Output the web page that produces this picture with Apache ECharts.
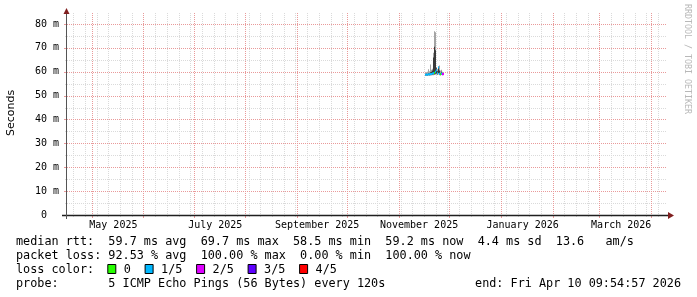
<!DOCTYPE html>
<html><head><meta charset="utf-8">
<script src="https://cdn.jsdelivr.net/npm/echarts@6/dist/echarts.min.js"></script>
<style>html,body{margin:0;padding:0;background:#fff}#c{width:697px;height:297px}</style>
</head><body><div id="c"></div>
<script>
// ---------------- data ----------------
const xStart = '2025-04-16T06:00:00Z';
const xEnd = '2026-04-10T09:54:57Z';
const monthLines = ['2025-05-01','2025-06-01','2025-07-01','2025-08-01','2025-09-01','2025-10-01',
  '2025-11-01','2025-12-01','2026-01-01','2026-02-01','2026-03-01','2026-04-01'];
const monthLabelDates = ['2025-05-14','2025-07-14','2025-09-13','2025-11-13','2026-01-14','2026-03-14'];
const monthNames = ['January','February','March','April','May','June','July','August','September','October','November','December'];
const firstWeekLine = '2025-04-20';
const yMax = 84.6;
const yMajorTicks = [0, 10, 20, 30, 40, 50, 60, 70, 80];
const yMinorTicks = [5, 15, 25, 35, 45, 55, 65, 75];

// samples every 12h (ms values)
const sampleTimes = ['2025-11-17T12:00Z','2025-11-18T00:00Z','2025-11-18T12:00Z','2025-11-19T00:00Z',
  '2025-11-19T12:00Z','2025-11-20T00:00Z','2025-11-20T12:00Z','2025-11-21T00:00Z','2025-11-21T12:00Z',
  '2025-11-22T00:00Z','2025-11-22T12:00Z','2025-11-23T00:00Z','2025-11-23T12:00Z','2025-11-24T00:00Z',
  '2025-11-24T12:00Z','2025-11-25T00:00Z','2025-11-25T12:00Z','2025-11-26T00:00Z','2025-11-26T12:00Z',
  '2025-11-27T00:00Z','2025-11-27T12:00Z','2025-11-28T00:00Z'];
const pingMin = [58.3,58.3,58.2,58.3,58.3,58.3,58.4,58.4,58.5,58.5,58.6,58.6,58.7,58.8,58.6,58.8,58.6,58.5,58.4,58.6,58.5,58.5];
const pingLow = [58.5,58.5,58.5,58.6,58.5,58.6,58.7,58.7,58.8,58.9,59.0,59.0,59.2,59.3,59.0,59.5,59.0,58.8,58.7,58.9,58.8,58.8];
const pingHigh = [59.0,59.2,59.0,59.4,59.2,59.3,59.8,60.0,60.5,66.0,70.0,70.5,69.0,61.5,60.2,62.0,60.0,60.5,59.3,60.0,59.5,59.4];
const pingMax = [59.5,59.8,60.0,61.0,59.8,60.2,63.0,60.8,61.2,68.0,72.0,77.0,76.5,62.0,61.0,62.3,61.5,62.6,60.5,60.8,60.0,59.8];
const medianRtt = [58.7,58.8,58.7,58.9,58.8,58.9,59.0,59.1,59.3,59.4,59.5,59.6,60.0,60.6,59.4,61.8,59.5,59.2,58.9,59.3,59.0,59.1];
const lossCount = [1,1,1,1,1,1,1,1,1,1,0,0,1,1,1,1,1,1,0,1,2,2];

const lossLabels = ['0', '1/5', '2/5', '3/5', '4/5'];
const lossColors = ['#26ff00', '#00b8ff', '#dd00ff', '#5e00ff', '#ff0000'];

const statLines = [
  'median rtt:  59.7 ms avg  69.7 ms max  58.5 ms min  59.2 ms now  4.4 ms sd  13.6   am/s',
  'packet loss: 92.53 % avg  100.00 % max  0.00 % min  100.00 % now'
];
const lossTitle = 'loss color:';
const probeLine = 'probe:       5 ICMP Echo Pings (56 Bytes) every 120s';
const endLine = 'end: Fri Apr 10 09:54:57 2026';
const yTitle = 'Seconds';
const watermark = 'RRDTOOL / TOBI OETIKER';

// ---------------- chart ----------------
const T = s => Date.parse(s.length === 10 ? s + 'T00:00:00Z' : s);
const tMin = T(xStart), tMax = T(xEnd);
const STEP = 12 * 3600 * 1000;
const DAY = 86400000;

const G = {left: 67, top: 13, width: 600, height: 202};

const weekLines = [];
for (let t = T(firstWeekLine); t < tMax; t += 7 * DAY) weekLines.push(t);

// grid line items: [kind, value]; kind 0 = week, 1 = month, 2 = minor y, 3 = major y
const gridItems = [];
weekLines.forEach(t => gridItems.push([0, t]));
yMinorTicks.forEach(v => gridItems.push([2, v]));
monthLines.forEach(s => gridItems.push([1, T(s)]));
yMajorTicks.filter(v => v > 0).forEach(v => gridItems.push([3, v]));

const samples = sampleTimes.map((s, i) => [T(s), pingMin[i], pingLow[i], pingHigh[i], pingMax[i], medianRtt[i], lossCount[i]]);

const GRAY = '#dadada';
const RED = '#e99a9a';

const chart = echarts.init(document.getElementById('c'), null, {renderer: 'canvas'});
const mono = 'DejaVu Sans Mono';
const FONT = '11.8px "DejaVu Sans Mono"';
const cw = 7.1; // legend char width
const lx = 16;

const graphics = [];
statLines.forEach((s, i) => graphics.push({type: 'text', left: lx, top: 236 + i * 14,
  style: {text: s, font: FONT, fill: '#000'}}));
graphics.push({type: 'text', left: lx, top: 264, style: {text: lossTitle, font: FONT, fill: '#000'}});
let bx = lx + 13 * cw - 1;
lossLabels.forEach((lab, i) => {
  graphics.push({type: 'rect', shape: {x: bx + 0.5, y: 264.5, width: 8, height: 9},
    style: {fill: lossColors[i], stroke: '#000', lineWidth: 1}});
  graphics.push({type: 'text', x: bx + 16.5, y: 264, style: {text: lab, font: FONT, fill: '#000'}});
  bx = bx + 16 + (lab.length + 2) * cw;
});
graphics.push({type: 'text', left: lx, top: 278, style: {text: probeLine, font: FONT, fill: '#000'}});
graphics.push({type: 'text', right: 16, top: 278, style: {text: endLine, font: FONT, fill: '#000'}});
graphics.push({type: 'text', x: 11, y: 113, rotation: Math.PI / 2,
  style: {text: yTitle, font: '11px "DejaVu Sans"', fill: '#000', align: 'center', verticalAlign: 'middle'}});
graphics.push({type: 'text', x: 687, y: 4, rotation: -Math.PI / 2,
  style: {text: watermark, font: '8.3px "DejaVu Sans Mono"', fill: '#b8b8b8', align: 'left', verticalAlign: 'middle'}});
// axis lines + arrows
graphics.push({type: 'line', shape: {x1: 62, y1: 215.5, x2: 669, y2: 215.5}, style: {stroke: '#1f1f1f', lineWidth: 1.5}, z: 20});
graphics.push({type: 'line', shape: {x1: 66.5, y1: 219, x2: 66.5, y2: 12}, style: {stroke: '#555', lineWidth: 1}, z: 20});
graphics.push({type: 'polygon', shape: {points: [[668, 212], [674, 215.5], [668, 219]]}, style: {fill: '#801f1f'}, z: 21});
graphics.push({type: 'polygon', shape: {points: [[63.5, 14], [66.5, 8], [69.5, 14]]}, style: {fill: '#801f1f'}, z: 21});

chart.setOption({
  animation: false,
  backgroundColor: '#ffffff',
  grid: G,
  xAxis: {
    type: 'value', min: tMin, max: tMax,
    axisLine: {show: false}, splitLine: {show: false},
    axisTick: {show: false},
    axisLabel: {
      customValues: monthLabelDates.map(T), margin: 5,
      fontFamily: mono, fontSize: 10, color: '#000',
      formatter: v => { const d = new Date(v); return monthNames[d.getUTCMonth()] + ' ' + d.getUTCFullYear(); }
    }
  },
  yAxis: {
    type: 'value', min: 0, max: yMax,
    axisLine: {show: false}, splitLine: {show: false},
    axisTick: {show: false},
    axisLabel: {
      customValues: yMajorTicks, margin: 8,
      fontFamily: mono, fontSize: 10, color: '#000',
      formatter: v => v === 0 ? '0  ' : v + ' m'
    }
  },
  graphic: graphics,
  series: [
    {
      type: 'custom', z: 1, silent: true, clip: false,
      data: gridItems,
      encode: {x: 1, y: 1},
      renderItem: (params, api) => {
        const kind = api.value(0), v = api.value(1);
        const cs = params.coordSys;
        if (kind <= 1) {
          const x = Math.round(api.coord([v, 0])[0]) + 0.5;
          const col = kind === 1 ? RED : GRAY;
          return {type: 'group', children: [
            {type: 'line', shape: {x1: x, y1: cs.y, x2: x, y2: cs.y + cs.height}, style: {stroke: col, lineWidth: 1, lineDash: [1, 1]}},
            {type: 'line', shape: {x1: x, y1: cs.y + cs.height, x2: x, y2: cs.y + cs.height + (kind === 1 ? 3 : 2)}, style: {stroke: col, lineWidth: 1}}
          ]};
        } else {
          const y = Math.round(api.coord([tMin, v])[1]) + 0.5;
          const col = kind === 3 ? RED : GRAY;
          return {type: 'group', children: [
            {type: 'line', shape: {x1: cs.x, y1: y, x2: cs.x + cs.width, y2: y}, style: {stroke: col, lineWidth: 1, lineDash: [1, 1]}},
            {type: 'line', shape: {x1: cs.x - (kind === 3 ? 3 : 2), y1: y, x2: cs.x, y2: y}, style: {stroke: col, lineWidth: 1}}
          ]};
        }
      }
    },
    {
      type: 'custom', z: 5, silent: true,
      data: samples,
      encode: {x: 0, y: [1, 4]},
      renderItem: (params, api) => {
        const t = api.value(0);
        const xa = Math.floor(api.coord([t - STEP, 0])[0]);
        let xb = Math.floor(api.coord([t, 0])[0]);
        if (xb <= xa) xb = xa + 1;
        const w = xb - xa;
        const yv = v => api.coord([t, v])[1];
        const mk = (lo, hi, fill) => ({type: 'rect', shape: {x: xa, y: yv(hi), width: w, height: yv(lo) - yv(hi)}, style: {fill}});
        const med = api.value(5), band = yMax / 200;
        return {type: 'group', children: [
          mk(api.value(1), api.value(4), '#a4a4a4'),
          mk(api.value(2), api.value(3), '#3a3a3a'),
          mk(med - band, med + band, lossColors[api.value(6)])
        ]};
      }
    }
  ]
});
</script></body></html>
